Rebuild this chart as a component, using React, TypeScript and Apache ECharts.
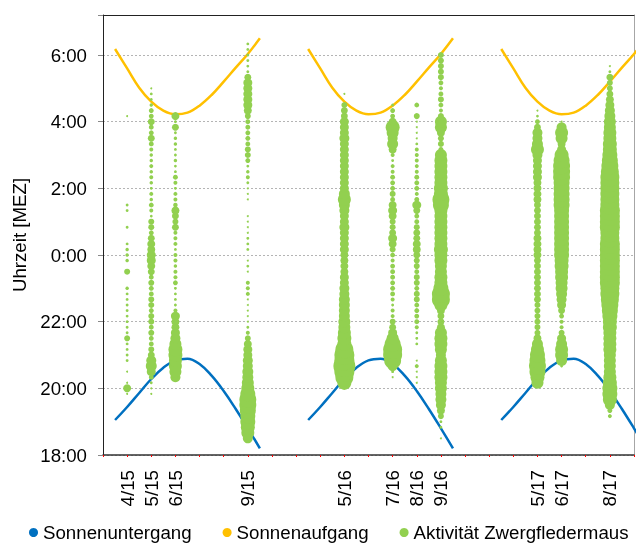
import React, { useEffect, useRef } from 'react';
import * as echarts from 'echarts';

// x axis: one unit per month, labels only where recordings exist
const xTickLabels = ['', '4/15', '5/15', '6/15', '', '', '9/15', '', '', '', '5/16', '', '7/16', '8/16', '9/16', '', '', '', '5/17', '6/17', '', '8/17', ''];
// y axis: hours after 18:00 MEZ, a label every 2 hours
const yTickLabels = ['18:00', '20:00', '22:00', '0:00', '2:00', '4:00', '6:00'];

// Sun curves (hours after 18:00 MEZ), half-month steps from the start of each season
const seasonStart = [0.5, 8.5, 16.5];
const curveStep = 0.5;
const sunsetHours = [1.05, 1.44, 1.86, 2.28, 2.62, 2.84, 2.89, 2.73, 2.38, 1.92, 1.38, 0.8, 0.2];
const sunriseHours = [12.18, 11.6, 11.02, 10.6, 10.33, 10.22, 10.27, 10.48, 10.8, 11.2, 11.62, 12.03, 12.5];

// Bat activity: calls per 10-minute slot (slot 0 = 18:00), one list per recording month
const columnMonth = [1, 2, 3, 6, 10, 12, 13, 14, 18, 19, 21];
const columnFirstSlot = [11, 11, 14, 3, 12, 14, 13, 3, 13, 16, 7];
const act0415 = [1, 16, 1, 0, 1, 0, 2, 2, 2, 2, 9, 2, 2, 2, 2, 2, 2, 2, 2, 3, 0, 0, 9, 0, 3, 3, 3, 2, 0, 0, 2, 0, 0, 2, 2, 0, 0, 0, 0, 0, 0, 0, 0, 0, 0, 0, 0, 0, 0, 0, 1];
const act0515 = [1, 1, 2, 6, 20, 30, 25, 12, 9, 6, 6, 9, 6, 9, 9, 6, 9, 9, 6, 6, 9, 6, 12, 16, 20, 20, 16, 16, 12, 6, 9, 9, 2, 4, 6, 3, 4, 2, 3, 4, 3, 4, 3, 3, 4, 6, 12, 6, 6, 12, 6, 6, 3, 2, 2, 1];
const act0615 = [25, 36, 42, 42, 49, 49, 36, 25, 20, 16, 16, 20, 4, 2, 2, 2, 2, 6, 4, 4, 3, 4, 4, 2, 4, 4, 4, 12, 9, 12, 16, 5, 4, 4, 2, 4, 6, 2, 2, 3, 2, 2, 3, 3, 2, 12, 2, 16];
const act0915 = [25, 42, 49, 56, 56, 64, 72, 72, 56, 42, 36, 30, 30, 25, 25, 20, 20, 16, 9, 4, 2, 1, 1, 1, 1, 1, 4, 4, 4, 0, 1, 2, 1, 0, 2, 2, 2, 1, 1, 1, 1, 0, 0, 1, 1, 1, 2, 4, 3, 2, 6, 9, 9, 6, 6, 6, 6, 6, 9, 16, 20, 20, 20, 20, 20, 12, 2, 2, 2, 2, 2, 2];
const act0516 = [2, 49, 81, 100, 121, 100, 100, 81, 49, 49, 42, 36, 36, 30, 30, 30, 30, 25, 25, 20, 20, 16, 16, 16, 16, 20, 20, 20, 20, 25, 20, 20, 25, 30, 42, 30, 20, 20, 20, 20, 20, 20, 20, 20, 20, 25, 20, 20, 20, 12, 12, 9, 0, 1];
const act0716 = [1, 2, 25, 72, 90, 90, 64, 36, 20, 12, 9, 4, 4, 2, 4, 6, 6, 6, 6, 6, 6, 4, 6, 9, 16, 20, 12, 9, 9, 16, 20, 16, 6, 9, 6, 6, 6, 4, 4, 2, 4, 16, 30, 25, 36, 49, 16, 6, 6, 2];
const act0816 = [1, 1, 1, 4, 1, 0, 0, 2, 2, 2, 4, 6, 6, 6, 6, 9, 9, 6, 9, 9, 6, 9, 9, 12, 16, 16, 12, 12, 9, 6, 6, 12, 20, 6, 4, 6, 6, 6, 4, 4, 4, 4, 4, 2, 1, 1, 1, 1, 9, 0, 6];
const act0916 = [1, 0, 2, 2, 9, 16, 25, 30, 30, 36, 36, 42, 42, 42, 36, 25, 36, 42, 42, 36, 16, 12, 12, 16, 42, 81, 81, 56, 42, 42, 36, 36, 42, 42, 49, 42, 42, 42, 42, 42, 42, 42, 64, 72, 49, 49, 42, 42, 42, 42, 42, 36, 6, 9, 9, 16, 36, 36, 9, 4, 6, 9, 6, 4, 6, 9, 9, 9, 9, 9];
const act0517 = [36, 49, 64, 72, 64, 56, 42, 30, 16, 9, 9, 9, 9, 9, 9, 12, 12, 12, 12, 12, 12, 12, 12, 16, 16, 16, 16, 12, 12, 12, 12, 12, 12, 16, 16, 16, 16, 20, 20, 20, 20, 25, 42, 30, 25, 25, 12, 6, 2, 1];
const act0617 = [2, 30, 42, 42, 30, 20, 9, 4, 4, 6, 12, 20, 25, 30, 36, 36, 42, 42, 49, 49, 56, 56, 56, 56, 56, 56, 56, 56, 56, 64, 64, 64, 64, 64, 72, 72, 72, 64, 49, 20, 16, 36, 42, 25, 1];
const act0817 = [4, 6, 25, 49, 56, 56, 49, 42, 36, 36, 36, 36, 42, 42, 42, 42, 49, 49, 56, 64, 72, 81, 90, 90, 100, 100, 100, 100, 100, 100, 100, 100, 90, 90, 100, 100, 100, 100, 90, 90, 90, 90, 90, 90, 81, 72, 64, 56, 49, 49, 42, 42, 36, 36, 30, 25, 20, 16, 12, 9, 9, 12, 2, 1];
const activityColumns = [act0415, act0515, act0615, act0915, act0516, act0716, act0816, act0916, act0517, act0617, act0817];

const SERIES_SUNSET = 'Sonnenuntergang';
const SERIES_SUNRISE = 'Sonnenaufgang';
const SERIES_BATS = 'Aktivität Zwergfledermaus';

const FONT = "'Liberation Sans', Arial, sans-serif";
const FS = 18.7;

function curveSeries(name: string, values: number[], color: string) {
  return seasonStart.map((s) => ({
    name,
    type: 'line',
    data: values.map((v, j) => [s + j * curveStep, v]),
    smooth: 0.4,
    showSymbol: false,
    symbol: 'none',
    clip: true,
    color,
    lineStyle: { color, width: 2.5 },
    itemStyle: { color },
    z: 2,
  }));
}

export default function App() {
  const ref = useRef<HTMLDivElement>(null);

  useEffect(() => {
    if (!ref.current) return;
    const chart = echarts.init(ref.current, undefined, { renderer: 'svg' });

    const bubbles: number[][] = [];
    activityColumns.forEach((arr, c) => {
      arr.forEach((count, j) => {
        if (count > 0) bubbles.push([columnMonth[c], (columnFirstSlot[c] + j) / 6, count]);
      });
    });

    const option: any = {
      animation: false,
      textStyle: { fontFamily: FONT },
      grid: { left: 103, right: 3, top: 15, bottom: 93, containLabel: false },
      legend: {
        left: 29,
        top: 523,
        width: 620,
        padding: 0,
        icon: 'circle',
        itemWidth: 9,
        itemHeight: 9,
        itemGap: 31,
        textStyle: { fontSize: FS, color: '#000', fontFamily: FONT },
        data: [SERIES_SUNSET, SERIES_SUNRISE, SERIES_BATS],
      },
      xAxis: [
        {
          type: 'value',
          position: 'bottom',
          min: 0,
          max: 22,
          interval: 1,
          axisLine: { show: true, onZero: false, lineStyle: { color: '#333', width: 1.5 } },
          axisTick: { show: true, length: 2, lineStyle: { color: '#ff0000', width: 1 } },
          axisLabel: {
            rotate: 90,
            fontSize: FS,
            color: '#000',
            margin: 15,
            fontFamily: FONT,
            formatter: (v: number) => (Number.isInteger(v) ? xTickLabels[v] ?? '' : ''),
          },
          splitLine: { show: false },
        },
        {
          type: 'value',
          position: 'top',
          min: 0,
          max: 22,
          axisLine: { show: true, onZero: false, lineStyle: { color: '#222', width: 1 } },
          axisTick: { show: false },
          axisLabel: { show: false },
          splitLine: { show: false },
        },
      ],
      yAxis: [
        {
          type: 'value',
          min: 0,
          max: 13.2,
          interval: 2,
          name: 'Uhrzeit [MEZ]',
          nameLocation: 'middle',
          nameRotate: 90,
          nameGap: 72,
          nameTextStyle: { fontSize: FS, color: '#000', fontFamily: FONT },
          axisLine: { show: true, onZero: false, lineStyle: { color: '#222', width: 1 } },
          axisTick: { show: true, length: 5, lineStyle: { color: '#888' } },
          axisLabel: {
            fontSize: FS,
            color: '#000',
            margin: 16,
            fontFamily: FONT,
            formatter: (v: number) => (Number.isInteger(v) && v % 2 === 0 && v / 2 < yTickLabels.length ? yTickLabels[v / 2] : ''),
          },
          splitLine: { show: true, lineStyle: { color: '#b4b4b4', type: [2, 2], width: 1 } },
        },
        {
          type: 'value',
          position: 'right',
          min: 0,
          max: 13.2,
          axisLine: { show: true, onZero: false, lineStyle: { color: '#a6a6a6', width: 1 } },
          axisTick: { show: false },
          axisLabel: { show: false },
          splitLine: { show: false },
        },
      ],
      series: [
        ...curveSeries(SERIES_SUNSET, sunsetHours, '#0070C0'),
        ...curveSeries(SERIES_SUNRISE, sunriseHours, '#FFC000'),
        {
          name: SERIES_BATS,
          type: 'scatter',
          data: bubbles,
          symbol: 'circle',
          symbolSize: (val: number[]) => 2 * Math.sqrt(val[2]),
          color: '#92D050',
          itemStyle: { color: '#92D050', opacity: 1 },
          z: 3,
        },
      ],
    };

    chart.setOption(option);
    return () => chart.dispose();
  }, []);

  return <div ref={ref} style={{ position: 'fixed', left: 0, top: 0, width: 637, height: 548 }} />;
}
